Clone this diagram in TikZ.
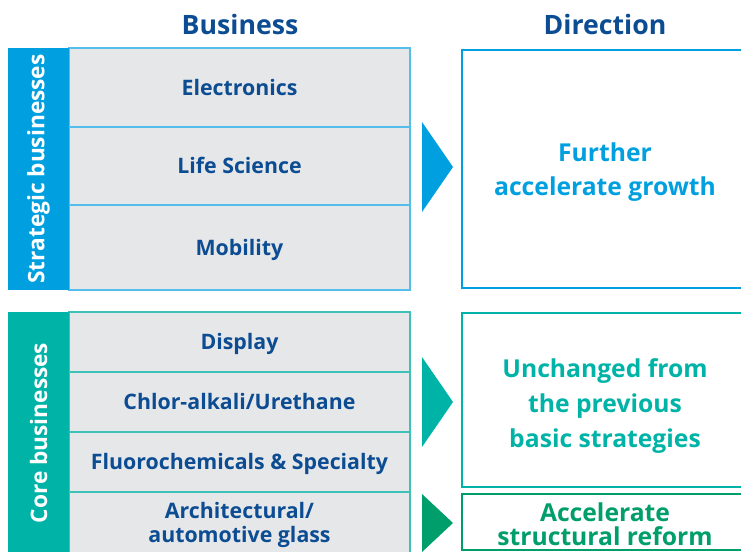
\documentclass[tikz,border=0pt]{standalone}
\usepackage{fontspec}
\setmainfont{Open Sans}
\usepackage{tikz}
\usetikzlibrary{positioning}
\definecolor{navy}{RGB}{12,76,146}
\definecolor{stratblue}{RGB}{0,160,224}
\definecolor{stratline}{RGB}{84,189,235}
\definecolor{coreteal}{RGB}{0,179,167}
\definecolor{coreline}{RGB}{62,193,184}
\definecolor{reformgreen}{RGB}{0,158,106}
\definecolor{rowgray}{RGB}{230,231,233}
\newcommand{\px}{0.75pt}

\begin{document}
\begin{tikzpicture}[x=\px,y=-\px]
\tikzstyle{head}=[font=\bfseries\fontsize{20}{24}\selectfont, text=navy]
\tikzstyle{bar}=[rotate=90, minimum height=61*\px, inner sep=0pt, outer sep=0pt,
                 text=white, font=\bfseries\fontsize{17}{20}\selectfont]
\tikzstyle{row}=[fill=rowgray, line width=1.5*\px, minimum width=341*\px, inner sep=0pt,
                 outer sep=0pt, text=navy, align=center,
                 font=\bfseries\fontsize{16}{17.5}\selectfont]
\tikzstyle{oneline}=[text height=13pt, text depth=1.5pt]
\tikzstyle{goal}=[draw, line width=2.5*\px, minimum width=286*\px]
\tikzstyle{goaltext}=[align=center, font=\bfseries\fontsize{18.5}{26}\selectfont]
\useasboundingbox (0,0) rectangle (741,552);

\node[head] (bus) at (240,25) {Business};
\node[head] (dir) at (605,25) {Direction};

% strategic businesses
\node[row, oneline, draw=stratline, minimum height=79*\px] (elec) at (239.5,87.5) {Electronics};
\node[row, oneline, draw=stratline, minimum height=78*\px, below=0pt of elec] (life) {Life Science};
\node[row, oneline, draw=stratline, minimum height=85*\px, below=0pt of life] (mob) {Mobility};
\node[bar, fill=stratblue, minimum width=242*\px] (strat) at (38.5,169) {Strategic businesses};

\node[goal, draw=stratblue, minimum height=238*\px] (growth) at (605,169) {};
\node[goaltext, text=stratblue] (growthtxt) at (605,172) {Further\\accelerate growth};
\fill[stratblue] (422,122) -- (453,167) -- (422,212) -- cycle;

% core businesses
\node[row, oneline, draw=coreline, minimum height=60*\px] (disp) at (239.5,342) {Display};
\node[row, oneline, draw=coreline, minimum height=60*\px, below=0pt of disp] (chlor) {Chlor-alkali/Urethane};
\node[row, oneline, draw=coreline, minimum height=60*\px, below=0pt of chlor] (fluoro) {Fluorochemicals \& Specialty};
\node[row, draw=coreline, minimum height=62*\px, below=0pt of fluoro] (glass) {};
\node[text=navy, align=center, font=\bfseries\fontsize{16}{17.5}\selectfont] (glasstxt)
  at (239.5,525) {Architectural/\\automotive glass};
\node[bar, fill=coreteal, minimum width=242*\px] (core) at (38.5,433) {Core businesses};

\node[goal, draw=coreteal, minimum height=174*\px] (unch) at (605,400) {};
\node[goaltext, text=coreteal] (unchtxt) at (605,406) {Unchanged from\\the previous\\basic strategies};
\fill[coreteal] (422,357) -- (453,402) -- (422,447) -- cycle;

\node[goal, draw=reformgreen, minimum height=56*\px] (reform) at (605,522) {};
\node[goaltext, text=reformgreen, font=\bfseries\fontsize{18.5}{18}\selectfont] (reformtxt)
  at (605,524) {Accelerate\\structural reform};
\fill[reformgreen] (422,494) -- (453,523) -- (422,552) -- cycle;
\end{tikzpicture}
\end{document}
